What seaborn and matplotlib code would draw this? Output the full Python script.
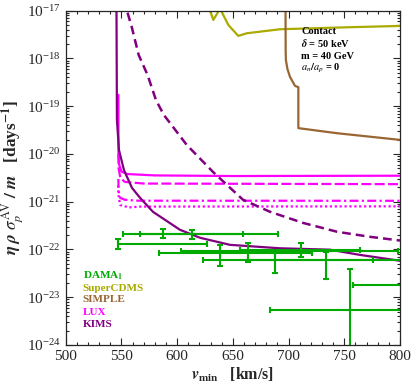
import numpy as np
import matplotlib
matplotlib.use("Agg")
import matplotlib.pyplot as plt
import seaborn as sns

# ---- data ----
kims_v = [545.5, 545.6, 546.0, 547.8, 552.3, 559.5, 566.7, 578.3, 602.6, 620.5, 647.5, 692.1, 737.2, 764.1, 800]
kims_s = [1e-16, 1e-17, 5.2e-20, 1.22e-20, 4.6e-21, 1.95e-21, 1.21e-21, 6.15e-22, 2.58e-22, 1.76e-22, 1.25e-22, 1.06e-22, 9.9e-23, 7.7e-23, 5.8e-23]

kims90_v = [554.0, 555.0, 559.5, 565.5, 573.5, 581.0, 588.0, 608.6, 632.2, 659.1, 683.4, 713.0, 743.5, 773.1, 800]
kims90_s = [2e-17, 1e-17, 4.35e-18, 1.18e-18, 4.5e-19, 1.35e-19, 6.6e-20, 1.55e-20, 4.2e-21, 1.1e-21, 6.15e-22, 3.6e-22, 2.35e-22, 1.84e-22, 1.54e-22]

lux_v = [547.3, 547.4, 548.0, 550.0, 555.0, 580.0, 650.0, 800]
lux_s = [1.72e-19, 1e-20, 6e-21, 4.3e-21, 3.8e-21, 3.55e-21, 3.45e-21, 3.5e-21]
lux_dash_v = [547.3, 547.5, 549.0, 553.0, 570.0, 800]
lux_dash_s = [1e-20, 5e-21, 3.2e-21, 2.6e-21, 2.4e-21, 2.33e-21]
lux_dd_v = [547.3, 547.6, 549.0, 553.0, 565.0, 800]
lux_dd_s = [3e-21, 1.6e-21, 1.2e-21, 1.1e-21, 1.05e-21, 1.045e-21]
lux_dot_v = [547.0, 547.7, 549.0, 557.0, 567.0, 800]
lux_dot_s = [2.2e-21, 1.2e-21, 8.5e-22, 7.6e-22, 7.9e-22, 8.0e-22]

cdms_v = [626.0, 629.5, 632.5, 638.5, 646.0, 654.9, 662.5, 692.4, 755.2, 800]
cdms_s = [3e-17, 1e-17, 6.4e-18, 1.1e-17, 5e-18, 2.96e-18, 3.36e-18, 4.08e-18, 4.5e-18, 4.79e-18]

simple_v = [697.3, 697.4, 697.6, 699.0, 701.3, 705.8, 708.8, 708.8, 743.3, 800]
simple_s = [1e-17, 1.5e-18, 9.3e-19, 6e-19, 4.1e-19, 2.66e-19, 2.5e-19, 3.47e-20, 2.72e-20, 1.97e-20]

# DAMA points: centre, v range, value, value range
dama_v = [547.2, 587.1, 613.1, 638.5, 663.9, 687.8, 710.9, 733.6, 755.1, 830.0]
dama_vlo = [547.2, 551.2, 566.7, 584.0, 603.2, 623.5, 656.4, 663.9, 683.3, 758.1]
dama_vhi = [627.1, 658.8, 690.8, 720.8, 798.2, 775.8, 764.1, 810.0, 850.0, 880.0]
dama_s = [1.30e-22, 2.16e-22, 2.16e-22, 8.24e-23, 9.4e-23, 6.09e-23, 9.7e-23, 6.09e-23, 5.47e-24, 1.83e-23]
dama_slo = [1.02e-22, 1.76e-22, 1.65e-22, 4.56e-23, 5.35e-23, 3.26e-23, 7.03e-23, 2.44e-23, 5e-25, 1.5e-23]
dama_shi = [1.65e-22, 2.67e-22, 2.55e-22, 1.27e-22, 1.34e-22, 8.24e-23, 1.34e-22, 8.95e-23, 3.89e-23, 2.2e-23]

labels = ["DAMA$_\\mathbf{1}$", "SuperCDMS", "SIMPLE", "LUX", "KIMS"]
note = ["Contact", "$\\boldsymbol{\\delta}$ = 50 keV", "m = 40 GeV", "$\\boldsymbol{a_n/a_p}$ = 0"]

c_dama = "#00AA00"
c_cdms = "#AAAA00"
c_simple = "#996633"
c_lux = "#FF00FF"
c_kims = "#800080"

sns.set_style("ticks")
plt.rcParams["font.family"] = ["Liberation Serif", "DejaVu Serif"]
plt.rcParams["mathtext.fontset"] = "stix"

fig = plt.figure(figsize=(4.13, 3.87), dpi=100)
ax = fig.add_axes([0.159, 0.1085, 0.8095, 0.864])

def line(v, s, color, lw, dashes=None):
    sns.lineplot(x=v, y=s, color=color, linewidth=lw, sort=False, estimator=None, ax=ax, legend=False)
    l = ax.lines[-1]
    if dashes is not None:
        l.set_dashes(dashes)
    return l

line(cdms_v, cdms_s, c_cdms, 1.6)
line(simple_v, simple_s, c_simple, 1.6)
line(lux_v, lux_s, c_lux, 1.6)
line(lux_dash_v, lux_dash_s, c_lux, 1.6, dashes=(4.5, 1.5))
line(lux_dd_v, lux_dd_s, c_lux, 1.6, dashes=(4, 1.5, 1, 1.5))
line(lux_dot_v, lux_dot_s, c_lux, 1.6, dashes=(1, 1.2))
line(kims_v, kims_s, c_kims, 1.6)
line(kims90_v, kims90_s, c_kims, 1.8, dashes=(3.5, 2))

dv = np.array(dama_v)
ds = np.array(dama_s)
xerr = [dv - np.array(dama_vlo), np.array(dama_vhi) - dv]
yerr = [ds - np.array(dama_slo), np.array(dama_shi) - ds]
ax.errorbar(dv, ds, xerr=xerr, yerr=yerr, fmt="none", ecolor=c_dama,
            elinewidth=1.5, capsize=2.2, capthick=1.5)

ax.set_yscale("log")
ax.set_xlim(500, 800)
ax.set_ylim(1e-24, 1e-17)
ax.set_xticks([500, 550, 600, 650, 700, 750, 800])
ax.xaxis.set_minor_locator(matplotlib.ticker.MultipleLocator(10))
ax.set_yticks([10.0 ** k for k in range(-24, -16)])
ax.yaxis.set_minor_locator(matplotlib.ticker.LogLocator(base=10, subs=np.arange(2, 10), numticks=20))
ax.yaxis.set_minor_formatter(matplotlib.ticker.NullFormatter())
ax.tick_params(which="both", direction="in", top=True, right=True, labelsize=11, width=0.8)
ax.tick_params(which="major", length=5)
ax.tick_params(which="minor", length=2.5)
for sp in ax.spines.values():
    sp.set_linewidth(0.9)

ax.set_xlabel("$\\boldsymbol{v}_{\\mathbf{min}}$   [km/s]", fontsize=11.5, fontweight="bold", labelpad=2)
ax.set_ylabel("$\\boldsymbol{\\eta\\ \\rho\\ \\sigma_p^{\\mathrm{AV}}\\ /\\ m}$   [days$^{\\mathbf{-1}}$]",
              fontsize=12.4, fontweight="bold", labelpad=1)

cols = [c_dama, c_cdms, c_simple, c_lux, c_kims]
ys = [0.206, 0.170, 0.135, 0.097, 0.060]
for lab, col, yy in zip(labels, cols, ys):
    ax.text(0.051, yy, lab, color=col, fontsize=8, fontweight="bold", va="center", transform=ax.transAxes)

for txt, yy in zip(note, [0.937, 0.902, 0.864, 0.827]):
    ax.text(0.704, yy, txt, color="black", fontsize=7.5, fontweight="bold", va="center", transform=ax.transAxes)

fig.savefig("out.png", dpi=100)
